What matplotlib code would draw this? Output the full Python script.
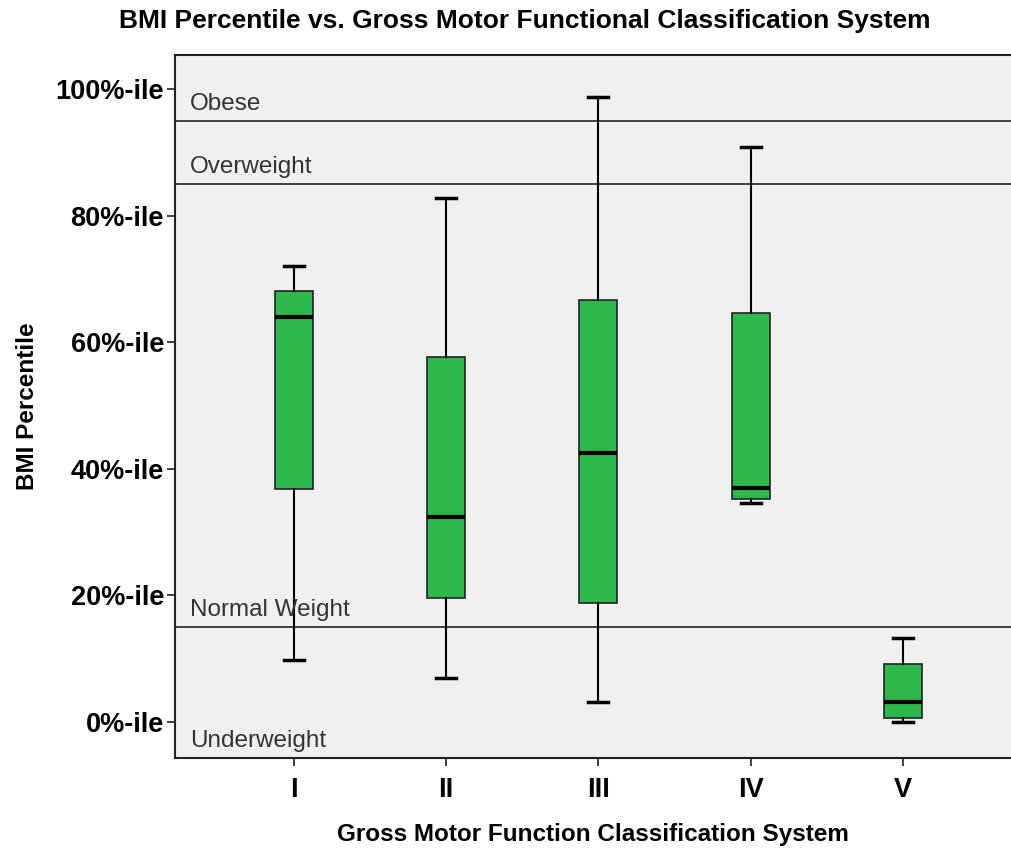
import matplotlib.pyplot as plt

# GMFCS levels and box stats (BMI percentile)
levels = ['I', 'II', 'III', 'IV', 'V']
whislo = [9.8, 7.0, 3.2, 34.6, 0.0]
q1 = [36.8, 19.6, 18.8, 35.2, 0.6]
med = [64.0, 32.4, 42.5, 37.0, 3.2]
q3 = [68.1, 57.7, 66.7, 64.6, 9.1]
whishi = [72.0, 82.8, 98.7, 90.8, 13.2]

cutoffs = [95, 85, 15]
band_labels = ['Obese', 'Overweight', 'Normal Weight', 'Underweight']
band_bottoms = [95, 85, 15, -5.7]

plt.rcParams['font.family'] = ['Liberation Sans', 'DejaVu Sans']

fig = plt.figure(figsize=(10.11, 8.48), dpi=100)
ax = fig.add_axes([0.1731, 0.1061, 0.8269, 0.8290])
ax.set_facecolor('#f0f0f0')

stats = []
for i in range(len(levels)):
    stats.append({'whislo': whislo[i], 'q1': q1[i], 'med': med[i],
                  'q3': q3[i], 'whishi': whishi[i], 'fliers': []})

ax.bxp(stats, positions=range(1, 6), widths=0.25, patch_artist=True,
       showfliers=False,
       boxprops=dict(facecolor='#2db84b', edgecolor='#222222', linewidth=1.2),
       medianprops=dict(color='black', linewidth=3),
       whiskerprops=dict(color='black', linewidth=1.5),
       capprops=dict(color='black', linewidth=2.5), capwidths=0.13)

for c in cutoffs:
    ax.axhline(c, color='#333333', lw=1.3, zorder=0.5)

for lab, b in zip(band_labels, band_bottoms):
    ax.text(0.32, b + 1.0, lab, fontsize=17.5, color='#333333', va='bottom', ha='left')

ax.set_xlim(0.22, 5.71)
ax.set_ylim(-5.7, 105.4)
ax.set_yticks([0, 20, 40, 60, 80, 100])
ax.set_yticklabels(['0%-ile', '20%-ile', '40%-ile', '60%-ile', '80%-ile', '100%-ile'],
                   fontsize=19.5, fontweight='bold')
ax.set_xticks(range(1, 6))
ax.set_xticklabels(levels, fontsize=19.5, fontweight='bold')
ax.tick_params(direction='out', length=6, width=1.3, color='#333333', pad=2)
ax.tick_params(axis='x', pad=8)

ax.spines['right'].set_visible(False)
for s in ['left', 'top', 'bottom']:
    ax.spines[s].set_linewidth(1.5)
    ax.spines[s].set_color('#222222')

ax.set_ylabel('BMI Percentile', fontsize=17.5, fontweight='bold', labelpad=12)
ax.set_xlabel('Gross Motor Function Classification System', fontsize=17.5,
              fontweight='bold', labelpad=14)
fig.text(0.5187, 0.975, 'BMI Percentile vs. Gross Motor Functional Classification System',
         fontsize=19, fontweight='bold', ha='center', va='center')

plt.savefig('out.png', dpi=100)
